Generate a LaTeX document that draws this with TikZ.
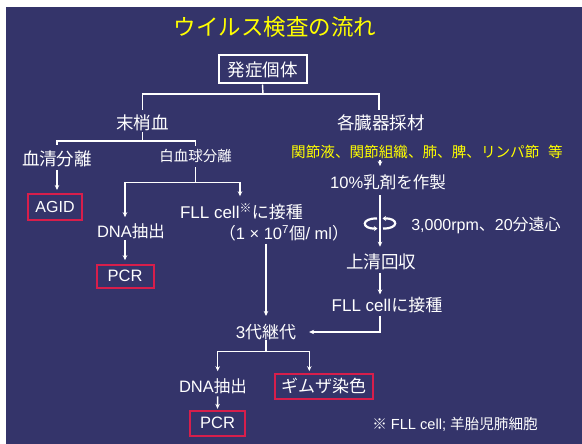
\documentclass[tikz,border=0pt]{standalone}
\usepackage{fontspec}
\setmainfont{Liberation Sans}
\newfontfamily\jpf{Noto Sans CJK JP}
\usetikzlibrary{arrows.meta,calc}
\definecolor{bg}{RGB}{52,52,106}
\definecolor{redbox}{RGB}{215,30,75}
\definecolor{ylw}{RGB}{255,255,0}
\newcommand\jp[1]{{\jpf #1}}
\newcommand\fs[1]{\fontsize{#1}{#1}\selectfont}
\begin{document}
\begin{tikzpicture}[x=1pt,y=-1pt,
  conn/.style={white, line width=1.4pt},
  arr/.style={conn, -{Stealth[length=5pt,width=4.5pt]}},
  lbl/.style={text=white, inner sep=0pt, font=\fs{#1}},
  lbl/.default=17,
  wbox/.style={draw=white, line width=2pt, text=white, inner sep=0pt},
  rbox/.style={draw=redbox, line width=2pt, text=white, inner sep=0pt},
  rotarr/.style={white, line width=2.2pt, -{Stealth[length=3.5pt,width=5pt]}}]
\useasboundingbox (0,0) rectangle (582,444);
\fill[bg] (6,7) rectangle (582,444);

\node[lbl=22.5, text=ylw] (title) at (275,27) {\jpf ウイルス検査の流れ};
\node[wbox, minimum width=88pt, minimum height=28pt, font=\fs{17.5}] (hassho) at (262.5,69.5) {\jpf 発症個体};
\node[lbl=17.5] (mashou) at (142.5,123) {\jpf 末梢血};
\node[lbl=17.5] (kakuzouki) at (381,123) {\jpf 各臓器採材};
\node[lbl=14.6, text=ylw] (organs) at (427,151.5) {\jpf 関節液、関節組織、肺、脾、リンパ節\hspace{0.6em}等};
\node[lbl=17.5] (kessei) at (57,158.5) {\jpf 血清分離};
\node[lbl=14.5] (hakkekkyu) at (195.5,155.5) {\jpf 白血球分離};
\node[rbox, minimum width=54pt, minimum height=26pt, font=\fs{16}] (agid) at (55,207) {AGID};
\node[lbl=16.5] (dna1) at (131,231) {DNA\jp{抽出}};
\node[rbox, minimum width=57pt, minimum height=23pt, font=\fs{16.5}] (pcr1) at (125,276) {PCR};
\node[lbl=17] (fll1) at (241.5,211.7) {FLL cell\textsuperscript{\jp{※}}\jp{に接種}};
\node[lbl=16.5] (conc) at (284,233) {\jp{（}1 × 10\textsuperscript{7}\jp{個}/ ml\jp{）}};
\coordinate (axis) at (380,0);
\node[lbl=16.5] (nyuzai) at (388,182) {10\%\jp{乳剤を作製}};
\coordinate (rot) at (380,223.5);
\node[lbl=16] (rpm) at (486,225) {3,000rpm\jp{、}20\jp{分遠心}};
\node[lbl=17.5] (jousei) at (381,262) {\jpf 上清回収};
\node[lbl=17] (fll2) at (387,305) {FLL cell\jp{に接種}};
\node[lbl=17] (keidai) at (266,332) {3\jp{代継代}};
\node[lbl=16.5] (dna2) at (213,386) {DNA\jp{抽出}};
\node[rbox, minimum width=98pt, minimum height=25pt, font=\fs{17}] (giemsa) at (323.7,386.2) {\jpf ギムザ染色};
\node[rbox, minimum width=55pt, minimum height=25pt, font=\fs{16.5}] (pcr2) at (217.5,423) {PCR};
\node[lbl=14.6] (note) at (455,424) {\jp{※} FLL cell; \jp{羊胎児肺細胞}};

% tree from 発症個体
\coordinate (j1) at (263,94);
\draw[conn] (hassho.south) -- (j1);
\draw[conn, shorten >=4.5pt] (j1) -| (mashou.north);
\draw[conn, shorten >=4.5pt] (j1) -| ([xshift=-2pt]kakuzouki.north);
% tree from 末梢血
\coordinate (j2) at (142.5,141);
\draw[conn, shorten <=1pt] (mashou.south) -- (j2);
\draw[conn, shorten >=5pt] (j2) -| (kessei.north);
\draw[conn, shorten >=3pt] (j2) -| (hakkekkyu.north);
\draw[arr, shorten <=3pt, shorten >=3pt] (kessei.south) -- (kessei.south |- agid.north);
% 白血球分離
\coordinate (j3) at (195.5,182.7);
\draw[conn, shorten <=5pt] (hakkekkyu.south) -- (j3);
\draw[arr, shorten >=6pt] (j3) -| ([xshift=-6pt]dna1.north);
\draw[arr, shorten >=7pt] (j3) -| ([xshift=-1.5pt]fll1.north);
\draw[arr, shorten <=1.5pt, shorten >=3.3pt] ([xshift=-6pt]dna1.south) -- (pcr1.north);
\draw[arr, shorten <=2.5pt, shorten >=8pt] (conc.south -| keidai.north) -- (keidai.north);
% right column
\draw[arr, shorten <=1pt, shorten >=8pt] (organs.south -| axis) -- (nyuzai.north -| axis);
\draw[arr, shorten <=5.5pt, shorten >=7pt] (nyuzai.south -| axis) -- (jousei.north -| axis);
\draw[arr, shorten <=2.7pt, shorten >=2.5pt] (jousei.south -| axis) -- (fll2.north -| axis);
\draw[arr, shorten <=2.5pt, shorten >=12.7pt] (fll2.south -| axis) |- (keidai.east);
% rotation symbol
\draw[rotarr] ($(rot)+(-3,-5)$) .. controls ($(rot)+(-19,-5.5)$) and ($(rot)+(-19,5.5)$) .. ($(rot)+(-2.5,5)$);
\draw[rotarr] ($(rot)+(3,5)$) .. controls ($(rot)+(19,5.5)$) and ($(rot)+(19,-5.5)$) .. ($(rot)+(2.5,-5)$);
% 3代継代
\coordinate (j4) at (266,351.7);
\draw[conn] (keidai.south) -- (j4);
\draw[arr, shorten >=7pt] (j4) -| ([xshift=4.7pt]dna2.north);
\draw[arr, shorten >=1.6pt] (j4) -| ([xshift=-14.4pt]giemsa.north);
\draw[arr, shorten <=2.5pt, shorten >=0.7pt] ([xshift=4.7pt]dna2.south) -- (pcr2.north);
\end{tikzpicture}
\end{document}
